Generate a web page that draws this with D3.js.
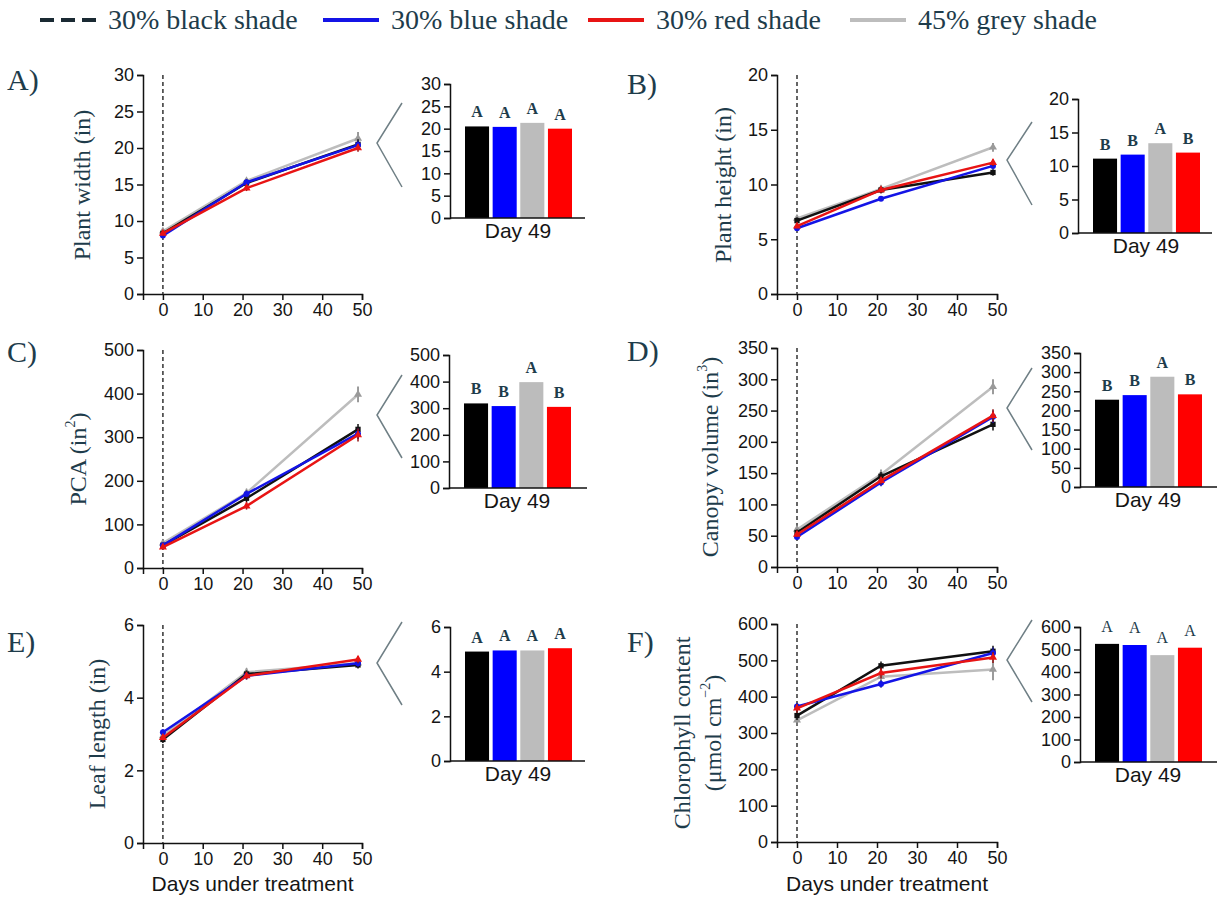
<!DOCTYPE html>
<html>
<head>
<meta charset="utf-8">
<script src="https://cdn.jsdelivr.net/npm/d3@7"></script>
<style>
	body { margin: 0; background: #fff; }
	svg { display: block; }
	.tick text { font-family: 'Liberation Sans', Arial, sans-serif; font-size: 18px; fill: #151515; }
	.domain, .tick line { stroke: #111; stroke-width: 1.5; }
	.serif { font-family: 'Liberation Serif', 'Times New Roman', serif; }
	.sans { font-family: 'Liberation Sans', Arial, sans-serif; }
</style>
</head>
<body>
<svg id="chart" width="1225" height="900"></svg>
<script>

// Data

var days = [0, 21, 49];
var xTicks = [0, 10, 20, 30, 40, 50];
var seriesKeys = ['black', 'blue', 'red', 'grey'];
var seriesNames = ['30% black shade', '30% blue shade', '30% red shade', '45% grey shade'];
var barOrder = ['black', 'blue', 'grey', 'red'];

var plantWidth = {black: [8.3, 15.2, 20.5], blue: [8.0, 15.3, 20.4], red: [8.3, 14.5, 20.0], grey: [8.6, 15.5, 21.3]};
var plantWidthErr = {black: [0.4, 0.5, 0.7], blue: [0.3, 0.4, 0.6], red: [0.3, 0.4, 0.5], grey: [0.4, 0.4, 0.9]};
var plantHeight = {black: [6.7, 9.5, 11.1], blue: [6.0, 8.7, 11.7], red: [6.2, 9.5, 12.0], grey: [6.9, 9.6, 13.4]};
var plantHeightErr = {black: [0.3, 0.3, 0.3], blue: [0.2, 0.2, 0.3], red: [0.2, 0.3, 0.3], grey: [0.3, 0.3, 0.4]};
var pca = {black: [52, 160, 318], blue: [52, 170, 308], red: [48, 142, 305], grey: [57, 172, 398]};
var pcaErr = {black: [6, 10, 12], blue: [5, 8, 12], red: [5, 8, 15], grey: [6, 10, 18]};
var canopy = {black: [55, 145, 228], blue: [48, 135, 240], red: [52, 138, 242], grey: [60, 148, 288]};
var canopyErr = {black: [5, 7, 10], blue: [4, 6, 10], red: [4, 6, 10], grey: [5, 8, 12]};
var leafLength = {black: [2.85, 4.65, 4.9], blue: [3.05, 4.6, 4.95], red: [2.9, 4.6, 5.05], grey: [2.95, 4.7, 4.95]};
var leafLengthErr = {black: [0.1, 0.1, 0.1], blue: [0.08, 0.1, 0.1], red: [0.08, 0.1, 0.1], grey: [0.1, 0.12, 0.12]};
var chlorophyll = {black: [348, 485, 525], blue: [373, 435, 520], red: [368, 465, 508], grey: [335, 455, 475]};
var chlorophyllErr = {black: [12, 12, 15], blue: [10, 10, 15], red: [12, 15, 15], grey: [15, 30, 30]};

var ticksA = [0, 5, 10, 15, 20, 25, 30];
var ticksB = [0, 5, 10, 15, 20];
var ticksC = [0, 100, 200, 300, 400, 500];
var ticksD = [0, 50, 100, 150, 200, 250, 300, 350];
var ticksE = [0, 2, 4, 6];
var ticksF = [0, 100, 200, 300, 400, 500, 600];

var lettersA = ['A', 'A', 'A', 'A'];
var lettersB = ['B', 'B', 'A', 'B'];
var lettersC = ['B', 'B', 'A', 'B'];
var lettersD = ['B', 'B', 'A', 'B'];
var lettersE = ['A', 'A', 'A', 'A'];
var lettersF = ['A', 'A', 'A', 'A'];

// Styles

var lineColor = {black: '#111111', blue: '#1414e6', red: '#e81414', grey: '#bdbdbd'},
	errColor = {black: '#111111', blue: '#1414a0', red: '#901010', grey: '#7a7a7a'},
	barColor = {black: '#000000', blue: '#0000ff', grey: '#bcbcbc', red: '#ff0000'},
	symbolType = {black: d3.symbolSquare, blue: d3.symbolCircle, red: d3.symbolTriangle, grey: d3.symbolTriangle},
	labelColor = '#1e3c4b';

var panels = [
	{tag: 'A)', data: plantWidth, err: plantWidthErr, letters: lettersA, ticks: ticksA, label: ['Plant width (in)'],
		tagPos: [7, 90], labelPos: [82, 185], line: [143, 362, 75, 294], bar: [450, 585, 84, 218], bracket: [402, 377, 103, 143, 187], gap: 9, bold: true},
	{tag: 'B)', data: plantHeight, err: plantHeightErr, letters: lettersB, ticks: ticksB, label: ['Plant height (in)'],
		tagPos: [627, 94], labelPos: [723, 185], line: [777, 997, 75, 294], bar: [1078, 1212, 99, 233], bracket: [1032, 1007, 122, 160, 205], gap: 9, bold: true},
	{tag: 'C)', data: pca, err: pcaErr, letters: lettersC, ticks: ticksC, label: ['PCA (in', '2', ')'],
		tagPos: [7, 362], labelPos: [78, 459], line: [143, 362, 350, 568], bar: [449, 587, 355, 488], bracket: [402, 377, 375, 415, 458], gap: 9, bold: true},
	{tag: 'D)', data: canopy, err: canopyErr, letters: lettersD, ticks: ticksD, label: ['Canopy volume (in', '3', ')'],
		tagPos: [627, 361], labelPos: [710, 457], line: [777, 997, 348, 567], bar: [1080, 1217, 353, 487], bracket: [1032, 1007, 368, 408, 450], gap: 9, bold: true},
	{tag: 'E)', data: leafLength, err: leafLengthErr, letters: lettersE, ticks: ticksE, label: ['Leaf length (in)'],
		tagPos: [7, 652], labelPos: [97, 734], line: [143, 362, 625, 843], bar: [450, 585, 627, 761], bracket: [402, 377, 622, 663, 705], gap: 9, bold: true, xTitle: true},
	{tag: 'F)', data: chlorophyll, err: chlorophyllErr, letters: lettersF, ticks: ticksF, label: ['(\u03bcmol cm', '\u22122', ')'], label2: 'Chlorophyll content',
		tagPos: [627, 652], labelPos: [713, 733], line: [777, 997, 624, 842], bar: [1080, 1217, 627, 762], bracket: [1032, 1007, 620, 660, 702], gap: 12, bold: false, xTitle: true}
];

var svg = d3.select('#chart');

// Legend

var legendPos = [40, 323, 588, 850];

var legend = svg.append('g')
	.selectAll('g')
	.data(seriesKeys)
	.enter()
	.append('g')
	.attr('transform', function(d, i) { return 'translate(' + legendPos[i] + ',20)'; });

legend.append('line')
	.attr('x1', 0)
	.attr('x2', 56)
	.attr('stroke', function(d) { return d == 'black' ? '#1a2a33' : lineColor[d]; })
	.attr('stroke-width', 4)
	.attr('stroke-dasharray', function(d) { return d == 'black' ? '14,7' : null; });

legend.append('text')
	.attr('class', 'serif')
	.attr('x', 68)
	.attr('y', 9)
	.style('font-size', '28px')
	.style('fill', labelColor)
	.text(function(d, i) { return seriesNames[i]; });

// Panels

panels.forEach(function(p) {

	var g = svg.append('g'),
		yMax = p.ticks[p.ticks.length - 1],
		x = d3.scaleLinear().domain([-5, 50]).range([p.line[0], p.line[1]]),
		y = d3.scaleLinear().domain([0, yMax]).range([p.line[3], p.line[2]]);

	g.append('g')
		.attr('transform', 'translate(0,' + p.line[3] + ')')
		.call(d3.axisBottom(x).tickValues(xTicks).tickSizeOuter(0).tickSize(6).tickPadding(3));

	g.append('g')
		.attr('transform', 'translate(' + p.line[0] + ',0)')
		.call(d3.axisLeft(y).tickValues(p.ticks).tickFormat(d3.format('d')).tickSizeOuter(0).tickSize(6).tickPadding(3));

	g.append('line')
		.attr('x1', x(0))
		.attr('x2', x(0))
		.attr('y1', y(yMax))
		.attr('y2', y(0))
		.attr('stroke', '#333')
		.attr('stroke-width', 1.5)
		.attr('stroke-dasharray', '4,3');

	var line = d3.line()
		.x(function(d, i) { return x(days[i]); })
		.y(function(d) { return y(d); });

	['grey', 'black', 'blue', 'red'].forEach(function(k) {
		var s = g.append('g');

		s.selectAll('line')
			.data(p.data[k])
			.enter()
			.append('line')
			.attr('x1', function(d, i) { return x(days[i]); })
			.attr('x2', function(d, i) { return x(days[i]); })
			.attr('y1', function(d, i) { return y(d - p.err[k][i]); })
			.attr('y2', function(d, i) { return y(d + p.err[k][i]); })
			.attr('stroke', errColor[k])
			.attr('stroke-width', 1.5);

		s.append('path')
			.datum(p.data[k])
			.attr('d', line)
			.attr('fill', 'none')
			.attr('stroke', lineColor[k])
			.attr('stroke-width', 2.5);

		s.selectAll('path.pt')
			.data(p.data[k])
			.enter()
			.append('path')
			.attr('class', 'pt')
			.attr('d', d3.symbol().type(symbolType[k]).size(28))
			.attr('transform', function(d, i) { return 'translate(' + x(days[i]) + ',' + y(d) + ')'; })
			.attr('fill', k == 'grey' ? '#9a9a9a' : lineColor[k]);
	});

	// y label
	var lab = g.append('text')
		.attr('class', 'serif')
		.attr('transform', 'translate(' + p.labelPos[0] + ',' + p.labelPos[1] + ') rotate(-90)')
		.attr('text-anchor', 'middle')
		.attr('dominant-baseline', 'central')
		.style('font-size', '24px')
		.style('fill', labelColor);

	lab.append('tspan').text(p.label[0]);
	if (p.label.length > 1) {
		lab.append('tspan').attr('dy', -8).style('font-size', '14px').text(p.label[1]);
		lab.append('tspan').attr('dy', 8).text(p.label[2]);
	}
	if (p.label2) {
		g.append('text')
			.attr('class', 'serif')
			.attr('transform', 'translate(' + (p.labelPos[0] - 31) + ',' + p.labelPos[1] + ') rotate(-90)')
			.attr('text-anchor', 'middle')
			.attr('dominant-baseline', 'central')
			.style('font-size', '24px')
			.style('fill', labelColor)
			.text(p.label2);
	}

	g.append('text')
		.attr('class', 'serif')
		.attr('x', p.tagPos[0])
		.attr('y', p.tagPos[1])
		.style('font-size', '30px')
		.style('fill', labelColor)
		.text(p.tag);

	if (p.xTitle) {
		g.append('text')
			.attr('class', 'sans')
			.attr('x', (p.line[0] + p.line[1]) / 2)
			.attr('y', 891)
			.attr('text-anchor', 'middle')
			.style('font-size', '21px')
			.style('fill', '#151515')
			.text('Days under treatment');
	}

	// zoom bracket
	g.append('path')
		.attr('d', d3.line()([[p.bracket[0], p.bracket[2]], [p.bracket[1], p.bracket[3]], [p.bracket[0], p.bracket[4]]]))
		.attr('fill', 'none')
		.attr('stroke', '#6f7f85')
		.attr('stroke-width', 1.5);

	// Day 49 bars
	var bx = d3.scaleBand().domain(barOrder).range([p.bar[0] + 15, p.bar[0] + 122]).paddingInner(0.13),
		by = d3.scaleLinear().domain([0, yMax]).range([p.bar[3], p.bar[2]]);

	g.selectAll('rect')
		.data(barOrder)
		.enter()
		.append('rect')
		.attr('x', function(d) { return bx(d); })
		.attr('width', bx.bandwidth())
		.attr('y', function(d) { return by(p.data[d][2]); })
		.attr('height', function(d) { return by(0) - by(p.data[d][2]); })
		.attr('fill', function(d) { return barColor[d]; });

	g.selectAll('text.letter')
		.data(barOrder)
		.enter()
		.append('text')
		.attr('class', 'letter serif')
		.attr('x', function(d) { return bx(d) + bx.bandwidth() / 2; })
		.attr('y', function(d) { return by(p.data[d][2]) - p.gap; })
		.attr('text-anchor', 'middle')
		.style('font-size', '16px')
		.style('font-weight', p.bold ? 'bold' : 'normal')
		.style('fill', labelColor)
		.text(function(d, i) { return p.letters[i]; });

	g.append('g')
		.attr('transform', 'translate(' + p.bar[0] + ',0)')
		.call(d3.axisLeft(by).tickValues(p.ticks).tickFormat(d3.format('d')).tickSizeOuter(0).tickSize(6).tickPadding(3));

	g.append('line')
		.attr('x1', p.bar[0])
		.attr('x2', p.bar[1])
		.attr('y1', p.bar[3])
		.attr('y2', p.bar[3])
		.attr('stroke', '#111')
		.attr('stroke-width', 1.5);

	g.append('text')
		.attr('class', 'sans')
		.attr('x', p.bar[0] + 68)
		.attr('y', p.bar[3] + 20)
		.attr('text-anchor', 'middle')
		.style('font-size', '21px')
		.style('fill', '#151515')
		.text('Day 49');
});

</script>
</body>
</html>
